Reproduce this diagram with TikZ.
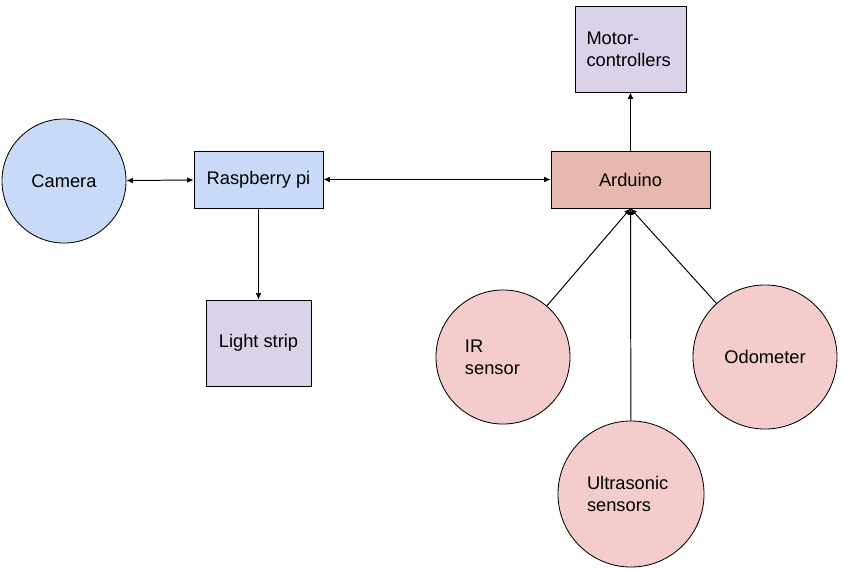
\documentclass[tikz,border=0pt]{standalone}
\usepackage{fontspec}
\setmainfont{Liberation Sans}
\usetikzlibrary{arrows.meta}
\definecolor{piblue}{HTML}{C9DAF8}
\definecolor{ardred}{HTML}{E6B8AF}
\definecolor{outlilac}{HTML}{D9D2E9}
\definecolor{senspink}{HTML}{F4CCCC}
\tikzset{
  box/.style={draw, line width=0.6pt, inner sep=0pt, align=left, font=\fontsize{13}{15.5}\selectfont},
  disc/.style={box, circle},
  tip/.tip={Latex[length=4.5pt,width=4pt]},
  link/.style={line width=0.7pt, -tip},
  both/.style={tip-tip},
}
\begin{document}
\begin{tikzpicture}[x=0.025cm, y=-0.025cm]
      \useasboundingbox (0,0) rectangle (845,572);
      \draw
        (64,181) node[disc, fill=piblue, minimum size=3.1cm] (cam){Camera}
        (258.5,179.5) node[box, fill=piblue, minimum width=3.225cm, minimum height=1.425cm] (pi){Raspberry pi}
        (258.5,343) node[box, fill=outlilac, minimum width=2.625cm, minimum height=2.15cm] (strip){Light strip}
        (630.5,179.5) node[box, fill=ardred, minimum width=3.975cm, minimum height=1.425cm] (ard){Arduino}
        (630.5,49) node[box, fill=outlilac, minimum width=2.775cm, minimum height=2.15cm, text width=2.2cm] (motor){Motor-\\controllers}
        (503,357) node[disc, fill=senspink, minimum size=3.35cm, text width=1.9cm] (ir){IR\\sensor}
        (631,494) node[disc, fill=senspink, minimum size=3.65cm, text width=2.2cm] (sonic){Ultrasonic\\sensors}
        (765,357) node[disc, fill=senspink, minimum size=3.6cm] (odo){Odometer};
      \begin{scope}[link]
        \draw[both] (cam) to (pi);
        \draw[both] (pi) to (ard);
        \draw (pi) to (strip);
        \draw (ard) to (motor);
        \draw (ir) to (ard.south);
        \draw (sonic) to (ard.south);
        \draw (odo) to (ard.south);
      \end{scope}
    \end{tikzpicture}
\end{document}
